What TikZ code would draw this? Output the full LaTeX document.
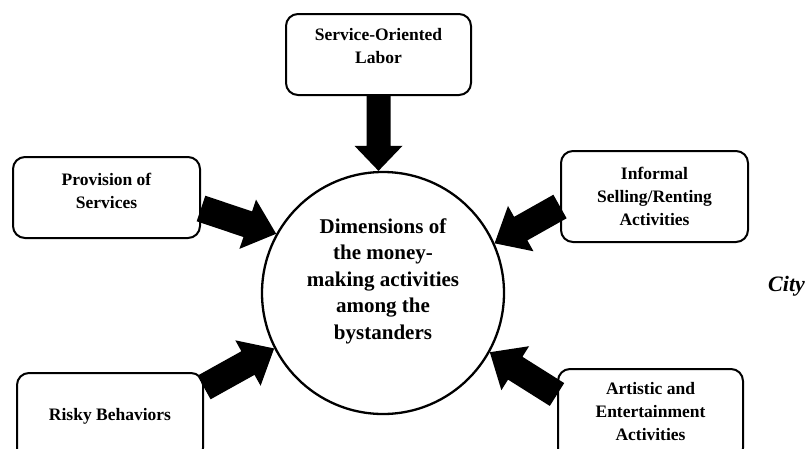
\documentclass[tikz,border=0pt]{standalone}
\usepackage{fontspec}
\setmainfont{Liberation Serif}
\usetikzlibrary{calc}
% #1 start, #2 tip, #3 shaft half-width, #4 head half-width, #5 head length
\newcommand\myblockarrow[5]{%
  \coordinate (mbaS) at (#1);
  \coordinate (mbaT) at (#2);
  \coordinate (mbaH) at ($(mbaT)!#5!(mbaS)$);
  \fill[black] ($(mbaS)!#3!90:(mbaT)$) -- ($(mbaH)!#3!90:(mbaT)$) -- ($(mbaH)!#4!90:(mbaT)$) -- (mbaT)
    -- ($(mbaH)!#4!-90:(mbaT)$) -- ($(mbaH)!#3!-90:(mbaT)$) -- ($(mbaS)!#3!-90:(mbaT)$) -- cycle;}
\begin{document}
\begin{tikzpicture}[x=1pt,y=-1pt,
  boxshape/.style={draw, line width=2pt, rounded corners=12pt, fill=white, inner sep=0pt},
  boxtext/.style={align=center, font=\bfseries\fontsize{17.5}{23}\selectfont, inner sep=0pt},
  circtext/.style={align=center, font=\bfseries\fontsize{21}{26.5}\selectfont, inner sep=0pt}]
\useasboundingbox (0,0) rectangle (811,448);
% central circle
\node[draw, circle, line width=2.3pt, minimum size=242pt, fill=white] (circ) at (383,293) {};
\node[circtext] (circt) at ([yshift=12pt]circ.center) {Dimensions of\\the money-\\making activities\\among the\\bystanders};
% boxes
\node[boxshape, minimum width=185pt, minimum height=81pt] (svc) at (378.5,54.5) {};
\node[boxtext] (svct) at ([yshift=8pt]svc.center) {Service-Oriented\\Labor};
\node[boxshape, minimum width=187pt, minimum height=81pt] (prov) at (106.5,197.5) {};
\node[boxtext] (provt) at ([yshift=6.5pt]prov.center) {Provision of\\Services};
\node[boxshape, minimum width=187pt, minimum height=91pt] (inf) at (654.5,196.5) {};
\node[boxtext] (inft) at (inf.center) {Informal\\Selling/Renting\\Activities};
\node[boxshape, minimum width=186pt, minimum height=87pt] (risky) at (110,416.5) {};
\node[boxtext] (riskyt) at (risky.center) {Risky Behaviors};
\node[boxshape, minimum width=185pt, minimum height=91pt] (art) at (650.5,414.5) {};
\node[boxtext] (artt) at ([yshift=2.5pt]art.center) {Artistic and\\Entertainment\\Activities};
% arrows
\myblockarrow{svc.south}{svc.south |- circ.north}{12pt}{24pt}{25pt}
\myblockarrow{[yshift=-11pt]prov.east}{circ.151}{13.5pt}{26pt}{30pt}
\myblockarrow{[yshift=29pt]risky.east}{circ.207}{13.5pt}{26pt}{30pt}
\myblockarrow{[yshift=-10pt]inf.west}{circ.24}{13.5pt}{26pt}{30pt}
\myblockarrow{[yshift=20pt]art.west}{circ.-29.5}{13.5pt}{26pt}{30pt}
% stray label
\node[font=\bfseries\itshape\fontsize{22}{26}\selectfont, anchor=base west, inner sep=0pt] (city) at (768,291) {City};
\end{tikzpicture}
\end{document}
